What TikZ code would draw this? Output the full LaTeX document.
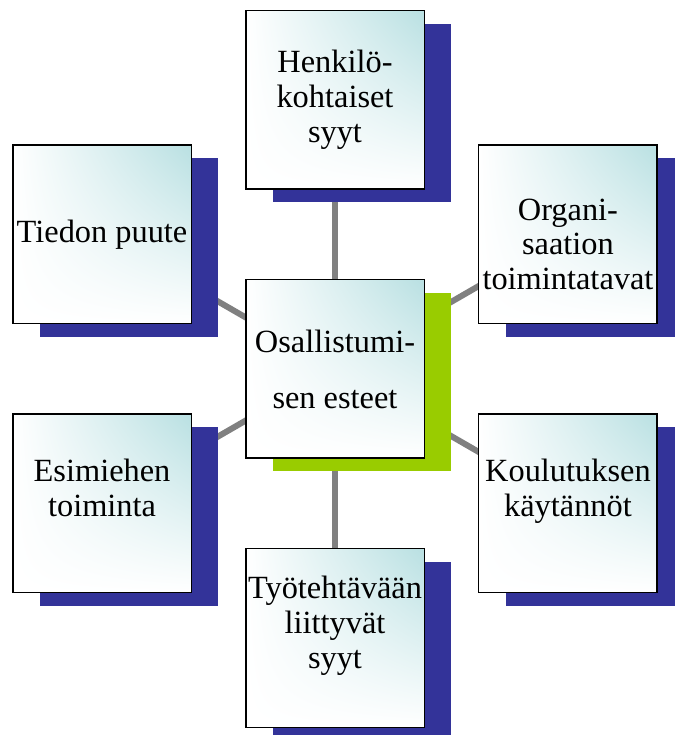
\documentclass[tikz,border=0pt]{standalone}
\usepackage{fontspec}
\setmainfont{Liberation Serif}
\usetikzlibrary{shadows,shadings,backgrounds}

\definecolor{boxcyan}{RGB}{185,224,226}
\definecolor{shadowblue}{RGB}{51,51,153}
\definecolor{shadowgreen}{RGB}{153,204,0}
\definecolor{linkgray}{RGB}{128,128,128}

\begin{document}
\begin{tikzpicture}[x=1bp,y=1bp,
  box/.style={draw=black,line width=1.5bp,minimum width=178.5bp,minimum height=178.5bp,
    inner sep=0pt,align=center,font=\fontsize{32.5}{35}\selectfont,
    upper left=white,upper right=boxcyan,lower left=white,lower right=white},
  outer/.style={box,drop shadow={shadow xshift=27bp,shadow yshift=-13bp,fill=shadowblue,opacity=1}},
  lifted/.style={outer,text depth=31bp},
  lowered/.style={outer,text height=111bp},
  hub/.style={box,drop shadow={shadow xshift=27bp,shadow yshift=-13bp,fill=shadowgreen,opacity=1}},
  link/.style={draw=linkgray,line width=6bp}]

\useasboundingbox (0,0) rectangle (675,735);

\begin{scope}[shift={(335,366)}]
\node[hub] (hub) at (0,0) {Osallistumi-\\[21bp]sen esteet};
\foreach \ang/\nm/\sty/\txt in
  {90/henk/outer/{Henkilö-\\kohtaiset\\syyt},
   150/tied/outer/{Tiedon puute},
   30/org/lowered/{Organi-\\saation\\toimintatavat},
   210/esim/lifted/{Esimiehen\\toiminta},
   330/koul/lifted/{Koulutuksen\\käytännöt},
   270/tyo/lifted/{Työtehtävään\\liittyvät\\syyt}}
{
\node[\sty] (\nm) at (\ang:269) {\txt};
}
\end{scope}

% spokes behind the boxes
\begin{scope}[on background layer]
\foreach \nm in {henk,tied,org,esim,koul,tyo}
  \draw[link] (hub.center) -- (\nm.center);
\end{scope}

\end{tikzpicture}
\end{document}
